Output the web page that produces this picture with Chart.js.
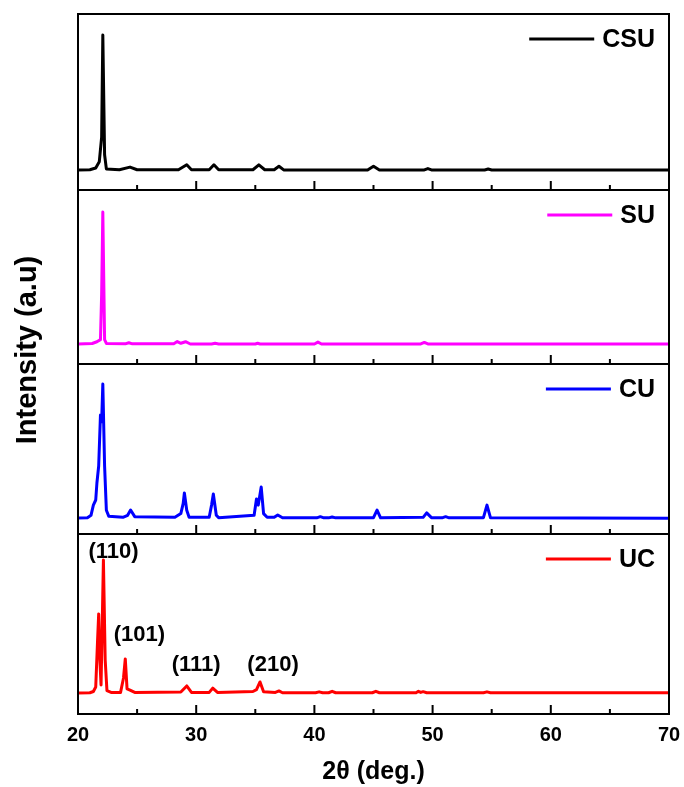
<!DOCTYPE html>
<html>
<head>
<meta charset="utf-8">
<script src="https://cdn.jsdelivr.net/npm/chart.js@4.4.1/dist/chart.umd.min.js"></script>
<style>
  html, body { margin: 0; padding: 0; background: #fff; }
  canvas { display: block; }
</style>
</head>
<body>
<canvas id="xrdChart" width="684" height="787"></canvas>
<script>
// 2theta positions and intensities (arbitrary units, 0-100 per panel)
const csuTheta = [20, 21.0, 21.5, 21.8, 22.0, 22.1, 22.25, 22.4, 23.5, 24.4, 25.0, 28.5, 29.2, 29.6, 31.1, 31.5, 31.9, 34.8, 35.3, 35.8, 36.6, 37.0, 37.4, 44.5, 45.0, 45.5, 49.3, 49.6, 49.9, 54.4, 54.7, 55.0, 70];
const csuCounts = [11.4, 11.5, 12.5, 16, 30, 88, 20, 12, 11.5, 13, 11.5, 11.5, 14.3, 11.5, 11.5, 14.3, 11.5, 11.5, 14.3, 11.5, 11.5, 13.5, 11.4, 11.4, 13.5, 11.4, 11.4, 12.2, 11.4, 11.4, 11.9, 11.4, 11.4];

const suTheta = [20, 21.2, 21.6, 21.9, 22.0, 22.1, 22.25, 22.4, 24.0, 24.3, 24.6, 28.1, 28.4, 28.7, 29.1, 29.5, 31.3, 31.6, 31.9, 35.0, 35.2, 35.4, 40.0, 40.3, 40.6, 49.0, 49.3, 49.6, 70];
const suCounts = [11.5, 11.8, 12.8, 14, 40, 87.4, 14, 11.8, 11.6, 12.2, 11.6, 11.6, 12.9, 11.9, 12.8, 11.5, 11.5, 11.9, 11.5, 11.5, 11.9, 11.5, 11.5, 12.6, 11.5, 11.5, 12.4, 11.5, 11.5];

const cuTheta = [20, 20.8, 21.1, 21.3, 21.5, 21.6, 21.75, 21.9, 22.0, 22.1, 22.25, 22.4, 22.6, 23.8, 24.2, 24.45, 24.8, 28.2, 28.7, 28.9, 29.0, 29.2, 29.4, 31.1, 31.3, 31.45, 31.7, 31.9, 34.9, 35.1, 35.25, 35.5, 35.7, 36.0, 36.6, 36.9, 37.3, 40.2, 40.5, 40.8, 41.2, 41.5, 41.8, 45.0, 45.3, 45.6, 49.2, 49.5, 49.9, 50.8, 51.1, 51.4, 54.3, 54.6, 54.9, 70];
const cuCounts = [9.4, 9.6, 11, 17, 20, 30, 40, 70, 66, 88.2, 40, 14, 10.5, 9.8, 11, 14.1, 10.2, 9.8, 12, 18, 24.1, 14, 9.8, 9.8, 17, 23.5, 11, 9.6, 11, 20.6, 17, 27.6, 12, 9.8, 9.8, 11.2, 9.6, 9.5, 10.2, 9.5, 9.5, 10, 9.5, 9.6, 14.1, 9.5, 9.8, 12.4, 9.6, 9.5, 10.2, 9.5, 9.6, 17, 9.5, 9.2];

const ucTheta = [20, 21.0, 21.3, 21.5, 21.65, 21.75, 21.85, 21.95, 22.05, 22.15, 22.3, 22.45, 22.8, 23.6, 23.85, 24.0, 24.15, 24.4, 24.8, 28.7, 29.2, 29.6, 31.1, 31.4, 31.8, 34.8, 35.1, 35.4, 35.7, 36.7, 37.0, 37.3, 40.1, 40.4, 40.7, 41.2, 41.5, 41.8, 44.9, 45.2, 45.5, 48.6, 48.8, 49.0, 49.2, 49.5, 54.3, 54.6, 54.9, 70];
const ucCounts = [11.7, 11.8, 12.5, 15, 40, 55.6, 30, 16.1, 50, 85.6, 30, 13, 12, 12, 20, 30.6, 14, 13.3, 12, 12.2, 15.6, 12, 12, 14.4, 12, 12.5, 13.5, 17.8, 12.3, 12, 12.8, 11.8, 11.8, 12.3, 11.8, 11.8, 12.6, 11.8, 11.8, 12.6, 11.8, 11.8, 12.6, 12.0, 12.4, 11.8, 11.8, 12.3, 11.8, 11.8];

const seriesNames = ['CSU', 'SU', 'CU', 'UC'];
const seriesColors = ['#000000', '#ff00ff', '#0000ff', '#ff0000'];
const panelWeights = [176, 174, 170, 180];

const majorTicks = [20, 30, 40, 50, 60, 70];
const minorTicks = [25, 35, 45, 55, 65];

const peakLabels = ['(110)', '(101)', '(111)', '(210)'];
const peakLabelTheta = [23.0, 25.2, 30.0, 36.5];
const peakLabelLevel = [90, 43.9, 27.2, 27.2];

const thetaSets = [csuTheta, suTheta, cuTheta, ucTheta];
const countSets = [csuCounts, suCounts, cuCounts, ucCounts];
const axisIds = ['yCSU', 'ySU', 'yCU', 'yUC'];

const FONT = 'Arial, "Liberation Sans", sans-serif';

const datasets = seriesNames.map(function(name, i) {
    return {
        label: name,
        data: thetaSets[i].map(function(t, j) { return { x: t, y: countSets[i][j] }; }),
        borderColor: seriesColors[i],
        backgroundColor: seriesColors[i],
        borderWidth: 3,
        borderJoinStyle: 'round',
        pointRadius: 0,
        tension: 0,
        yAxisID: axisIds[i]
    };
});

const scales = {
    x: {
        type: 'linear',
        min: 20,
        max: 70,
        // invisible tick marks only reserve the gap under the axis
        grid: { display: true, drawOnChartArea: false, drawTicks: true, tickLength: 9, color: 'rgba(0,0,0,0)' },
        border: { display: false },
        ticks: {
            stepSize: 10,
            padding: 0,
            color: '#000',
            font: { family: FONT, size: 20, weight: 'bold' }
        },
        title: {
            display: true,
            text: '2θ (deg.)',
            color: '#000',
            font: { family: FONT, size: 25, weight: 'bold' },
            padding: { top: 10, bottom: 0 }
        }
    }
};
axisIds.forEach(function(id, i) {
    scales[id] = {
        type: 'linear',
        display: false,
        position: 'left',
        stack: 'xrd',
        stackWeight: panelWeights[i],
        weight: 4 - i,
        min: 0,
        max: 100
    };
});

// panel frames, inward ticks, legends and peak labels
const xrdDecor = {
    id: 'xrdDecor',
    afterDatasetsDraw: function(chart) {
        const ctx = chart.ctx;
        const area = chart.chartArea;
        const xs = chart.scales.x;
        ctx.save();
        ctx.strokeStyle = '#000';
        ctx.lineWidth = 2;
        axisIds.forEach(function(id, i) {
            const ys = chart.scales[id];
            ctx.strokeRect(area.left, ys.top, area.right - area.left, ys.bottom - ys.top);
            ctx.beginPath();
            majorTicks.concat(minorTicks).forEach(function(v) {
                const px = xs.getPixelForValue(v);
                const len = majorTicks.indexOf(v) >= 0 ? 9 : 5;
                ctx.moveTo(px, ys.bottom);
                ctx.lineTo(px, ys.bottom - len);
            });
            ctx.stroke();

            // legend entry
            const ly = ys.top + 25;
            ctx.font = 'bold 25px ' + FONT;
            ctx.textAlign = 'right';
            ctx.textBaseline = 'middle';
            ctx.fillStyle = '#000';
            const tx = area.right - 14;
            ctx.fillText(seriesNames[i], tx, ly + 1);
            const tw = ctx.measureText(seriesNames[i]).width;
            ctx.beginPath();
            ctx.strokeStyle = seriesColors[i];
            ctx.lineWidth = 3;
            ctx.moveTo(tx - tw - 8, ly);
            ctx.lineTo(tx - tw - 73, ly);
            ctx.stroke();
            ctx.strokeStyle = '#000';
            ctx.lineWidth = 2;
        });

        const yuc = chart.scales.yUC;
        ctx.font = 'bold 22px ' + FONT;
        ctx.textAlign = 'center';
        ctx.textBaseline = 'middle';
        ctx.fillStyle = '#000';
        peakLabels.forEach(function(lbl, k) {
            ctx.fillText(lbl, xs.getPixelForValue(peakLabelTheta[k]), yuc.getPixelForValue(peakLabelLevel[k]));
        });

        // y axis title
        ctx.translate(28, (area.top + area.bottom) / 2 - 14);
        ctx.rotate(-Math.PI / 2);
        ctx.font = 'bold 29px ' + FONT;
        ctx.fillText('Intensity (a.u)', 0, 0);
        ctx.restore();
    }
};

const ctx = document.getElementById('xrdChart');
const xrdChart = new Chart(ctx, {
    type: 'line',
    data: { datasets: datasets },
    options: {
        responsive: false,
        animation: false,
        devicePixelRatio: 1,
        layout: { padding: { left: 78, right: 15, top: 14, bottom: 0 } },
        plugins: {
            legend: { display: false },
            tooltip: { enabled: false }
        },
        scales: scales
    },
    plugins: [xrdDecor]
});
</script>
</body>
</html>
